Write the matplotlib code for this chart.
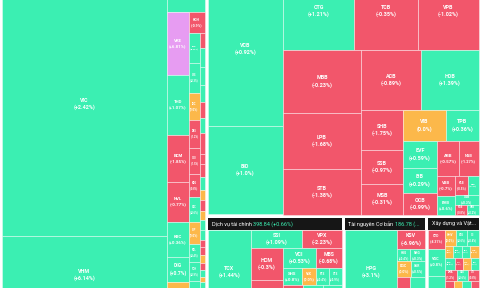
import numpy as np
import matplotlib.pyplot as plt
from matplotlib.patches import Rectangle

plt.rcParams['font.family'] = ['Roboto', 'DejaVu Sans']

# sector level data
sector_names = ['Bất động sản', 'Ngân hàng', 'Dịch vụ tài chính', 'Tài nguyên Cơ bản', 'Xây dựng và Vật liệu']
sector_index = [1105.42, 612.37, 398.84, 186.78, 143.25]
sector_pct = [2.11, -0.12, 0.66, 1.52, 0.21]
sector_sizes = [73748, 70692, 13700, 8300, 5400]

# Bat dong san
re_tickers = ['VIC', 'VHM', 'KSF', 'VRE', 'THD', 'BCM', 'NVL', 'KBC', 'DIG', 'PDR', 'KDH',
              'NLG', 'SJS', 'IDC', 'DXS', 'CEO', 'HDG', 'SZC', 'SIP', 'NTL', 'TCH', 'VPI',
              'HQC', 'NVT', 'LHG', 'TIP', 'ITC', 'QCG', 'D2D', 'HAR', 'DRH', 'NTC', 'SZL',
              'CRE', 'TDC', 'LDG', 'IJC', 'DIH', 'PTL', 'FIR', 'VRC', 'SGR', 'HPX', 'TN1']
re_sizes = [43775, 12992, 1519, 1386, 1320, 1034, 880, 770, 550, 715, 326,
            330, 330, 297, 308, 286, 253, 275, 242, 198, 209, 369,
            68, 86, 81, 77, 72, 68, 95, 45, 59, 59, 45, 50, 41, 45, 45, 32, 36, 36, 32, 32, 23, 146]
re_changes = [2.42, 6.14, 0.5, 6.81, 1.07, -1.85, -0.77, 0.36, 0.7, 0.0, -0.9,
              0.45, 0.3, 0.0, -1.2, -1.5, -0.8, 0.6, 0.0, 0.4, 0.9, 0.2,
              -0.6, 0.5, 0.8, 0.3, -1.1, 0.4, -0.7, -0.9, -1.3, 0.6, 0.0, -0.4, 0.0, 0.7, 0.2,
              -0.5, -1.0, 0.0, -0.8, 0.9, 0.0, 0.3]

# Ngan hang
bank_tickers = ['VCB', 'BID', 'CTG', 'TCB', 'VPB', 'MBB', 'LPB', 'STB', 'ACB', 'HDB',
                'SHB', 'SSB', 'MSB', 'VIB', 'TPB', 'EVF', 'EIB', 'OCB', 'ABB', 'NAB',
                'VAB', 'BVB', 'KLB', 'NVB', 'SGB', 'PGB', 'VBB']
bank_sizes = [11665, 6682, 5574, 5024, 4749, 4914, 4368, 3549, 3600, 3450,
              1680, 1428, 1281, 1333, 1008, 918, 850, 731, 770, 683,
              360, 333, 247, 200, 235, 114, 109]
bank_changes = [0.92, 1.0, 1.21, -0.35, -1.02, -0.23, -1.68, -1.38, -0.89, 1.39,
                -1.75, -0.97, -0.31, 0.0, 0.36, 0.59, 0.29, -0.99, -0.57, -1.27,
                -0.7, 0.6, -0.5, 0.4, 0.3, -0.8, 0.2]

# Dich vu tai chinh
fin_tickers = ['TCX', 'SSI', 'VPX', 'HCM', 'VND', 'VCI', 'MBS', 'SHS', 'VIX', 'FTS', 'CTS', 'BSI', 'ORS', 'AGR']
fin_sizes = [3698, 944, 731, 1024, 1104, 660, 510, 323, 238, 221, 213, 590, 590, 546]
fin_changes = [1.44, 1.09, -2.23, -0.3, -0.5, 0.53, -0.68, 0.8, 0.0, 0.4, 0.9, -0.6, 0.5, 0.3]

# Tai nguyen co ban
basic_tickers = ['HPG', 'KSV', 'HSG', 'NKG', 'DGC', 'GVR', 'DCM', 'PTB']
basic_sizes = [4463, 550, 162, 168, 203, 210, 513, 532]
basic_changes = [3.1, -6.96, 0.4, 0.3, 0.0, 0.5, -0.8, 0.2]

# Xay dung va vat lieu
con_tickers = ['CTD', 'VGC', 'HT1', 'HHV', 'VCG', 'CII', 'PC1', 'BMP', 'DPG', 'CTR', 'FCN', 'LCG',
               'HBC', 'KSB', 'DHA', 'C4G', 'CTI', 'BCC', 'PLC', 'HUT', 'TV2', 'SCG', 'CC1']
con_sizes = [323, 459, 663, 184, 176, 184, 96, 108, 96, 108, 120, 96, 96, 96,
             132, 121, 121, 108, 96, 108, 96, 374, 374]
con_changes = [-4.31, 0.8, 0.5, 0.0, 0.6, 0.4, 0.0, 0.7, 0.3, 0.0, 0.5, -0.9, 0.0, 0.4,
               -1.2, 0.6, -0.8, -0.5, 0.0, 0.9, -0.7, 0.3, -1.1]

SECTOR_STRIPS = [('col', 1), ('row', 1), ('row', 3)]
STRIPS = [
    [('col', 2), ('row', 1), ('col', 7), ('row', 1), ('col', 11), ('col', 22)],
    [('col', 2), ('row', 3), ('col', 3), ('row', 2), ('col', 3), ('row', 2),
     ('col', 3), ('row', 2), ('col', 2), ('row', 2), ('row', 1), ('row', 2)],
    [('col', 1), ('row', 2), ('col', 2), ('row', 2), ('row', 4), ('row', 3)],
    [('col', 1), ('row', 1), ('row', 2), ('row', 2), ('row', 2)],
    [('col', 3), ('row', 3), ('row', 4), ('row', 4), ('row', 3), ('row', 4), ('row', 2)],
]
sectors = [
    (re_tickers, re_sizes, re_changes),
    (bank_tickers, bank_sizes, bank_changes),
    (fin_tickers, fin_sizes, fin_changes),
    (basic_tickers, basic_sizes, basic_changes),
    (con_tickers, con_sizes, con_changes),
]

GREEN = '#3BEFB2'
RED = '#F2566B'
ORANGE = '#FCB84A'
PINK = '#E79CF2'
HEAD = '#161616'
PAD = 1.5
HEADER_H = 12
VIEW_H = 288


def color_for(v):
    if v >= 6.5:
        return PINK
    if v > 0:
        return GREEN
    if v < 0:
        return RED
    return ORANGE


def fmt_pct(v):
    s = f'{abs(v):.2f}'
    if s.endswith('0'):
        s = s[:-1]
    sign = '+' if v > 0 else ('-' if v < 0 else '')
    return f'({sign}{s}%)'


def strip_layout(x0, y0, x1, y1, sizes, strips):
    sizes = np.asarray(sizes, dtype=float)
    sizes = sizes * (x1 - x0) * (y1 - y0) / sizes.sum()
    rects, i = [], 0
    for d, n in strips:
        chunk = sizes[i:i + n]
        s = chunk.sum()
        if d == 'col':
            w = s / (y1 - y0)
            y = y0
            for v in chunk:
                h = v / w
                rects.append((x0, y, x0 + w, y + h))
                y += h
            x0 += w
        else:
            h = s / (x1 - x0)
            x = x0
            for v in chunk:
                w = v / h
                rects.append((x, y0, x + w, y0 + h))
                x += w
            y0 += h
        i += n
    return rects


fig = plt.figure(figsize=(4.8, 2.88), dpi=100)
ax = fig.add_axes([0, 0, 1, 1])
ax.set_xlim(0, 480)
ax.set_ylim(VIEW_H, 0)
ax.axis('off')
renderer = fig.canvas.get_renderer()

sector_boxes = strip_layout(0, -42, 480, 316, sector_sizes, SECTOR_STRIPS)

for k, (bx0, by0, bx1, by1) in enumerate(sector_boxes):
    x0, y0, x1, y1 = bx0 + PAD, by0 + PAD, bx1 - PAD, by1 - PAD
    # header bar (top sectors have theirs above the visible window)
    ax.add_patch(Rectangle((x0, y0), x1 - x0, HEADER_H, facecolor=HEAD, edgecolor='none'))
    if y0 >= 0:
        name = sector_names[k]
        full = name + ' ' + f'{sector_index[k]:.2f} {fmt_pct(sector_pct[k])}'
        avail = x1 - x0 - 6
        fs_h = 4.0
        shown = full
        t = ax.text(0, 0, shown, fontsize=fs_h)
        cut = len(full)
        while t.get_window_extent(renderer).width > avail and cut > 3:
            cut -= 1
            shown = full[:cut].rstrip() + '...'
            t.set_text(shown)
        t.remove()
        name_part = shown[:len(name)]
        rest = shown[len(name):].lstrip()
        ty = y0 + HEADER_H / 2 + 0.3
        tn = ax.text(x0 + 4, ty, name_part, fontsize=fs_h, color='white',
                     va='center', ha='left')
        wn = tn.get_window_extent(renderer).width
        if rest:
            ax.text(x0 + 4 + wn + 1.6, ty, rest, fontsize=fs_h, color=GREEN,
                    va='center', ha='left')

    tickers, sizes, changes = sectors[k]
    cells = strip_layout(x0, y0 + HEADER_H, x1, y1, sizes, STRIPS[k])
    for (cx0, cy0, cx1, cy1), tk, ch in zip(cells, tickers, changes):
        w, h = cx1 - cx0, cy1 - cy0
        ax.add_patch(Rectangle((cx0, cy0), w, h, facecolor=color_for(ch),
                               edgecolor=(1, 1, 1, 0.55), linewidth=0.5))
        cx, cy = (cx0 + cx1) / 2, (cy0 + cy1) / 2
        if cy < 4 or cy > VIEW_H - 4:
            continue
        label = f'{tk}\n{fmt_pct(ch)}'
        n = max(len(tk), len(fmt_pct(ch)))
        fs = min(3.9, 1.15 * w / n, 0.23 * h)
        if fs < 1.1:
            continue
        ax.text(cx, cy, label, fontsize=fs, color='white',
                fontweight='bold', ha='center', va='center', linespacing=1.4, clip_on=True)

fig.savefig('out.png', dpi=100)
